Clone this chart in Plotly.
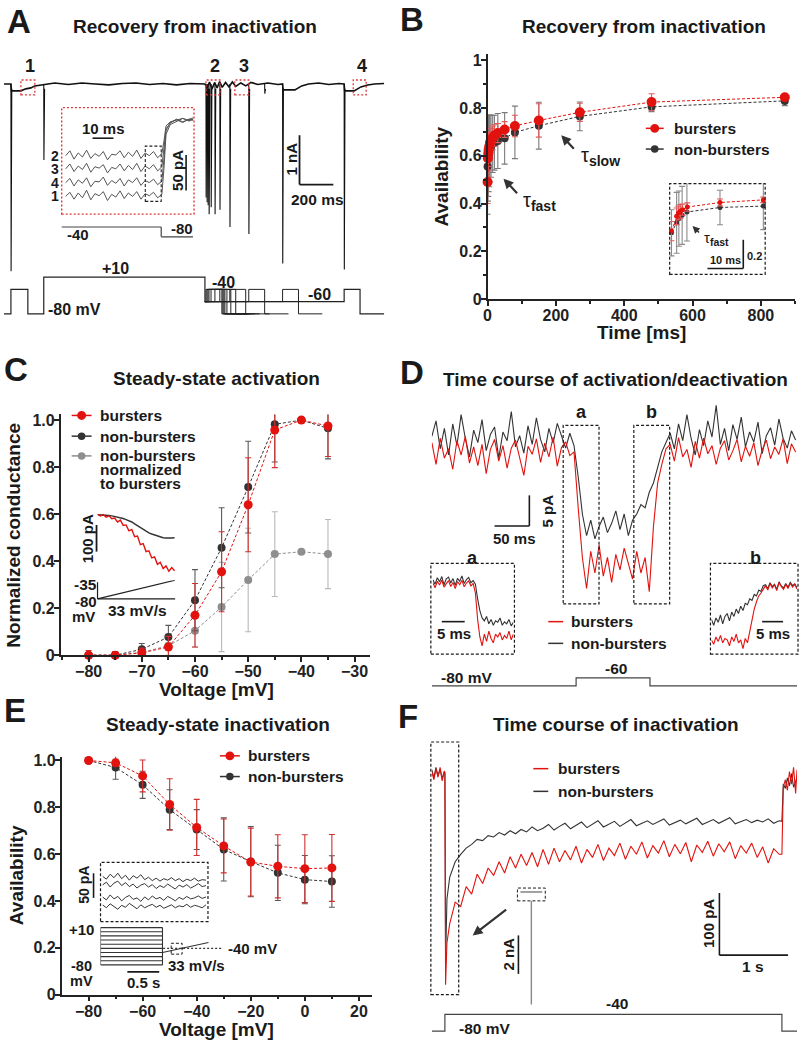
import numpy as np
import plotly.graph_objects as go

W, H = 800, 1048
RED = "#e2120e"
RED_ERR = "#e35a5a"
DARK = "#333333"
DARK_ERR = "#5a5a5a"
GRAY = "#8e8e8e"
GRAY_ERR = "#b8b8b8"
INK = "#1a1a1a"
FONT = "Liberation Sans, Arial, sans-serif"

# ---------------- data ----------------
# A: recovery protocol, current trace (ms, nA) and command steps
a_base_t = [0, 41, 44, 100, 129, 159, 182, 223, 235, 300, 380, 460, 540, 620, 700, 780, 860, 940, 1020, 1100,
            1188, 1200, 1215, 1230, 1245, 1260, 1275, 1290, 1310, 1330, 1350, 1370, 1400, 1430, 1460, 1500, 1560,
            1620, 1647, 1650, 1720, 1760, 1800, 1860, 1920, 1980, 2011, 2014, 2070, 2110, 2150, 2190, 2247]
a_base_i = [0, 0, -0.14, -0.14, -0.1, -0.08, -0.04, -0.02, 0, 0.02, -0.01, 0.02, 0, -0.02, 0.01, 0.02, -0.01, 0.01,
            -0.02, 0.01, 0, -0.08, 0.04, -0.1, 0.03, -0.08, 0.05, -0.07, 0.03, -0.06, 0.04, -0.05, 0.02, -0.04, 0.03,
            -0.01, 0.02, -0.01, 0, -0.12, -0.12, -0.04, 0, 0.02, -0.01, 0.01, 0, -0.14, -0.14, -0.06, -0.02, 0, 0.01]
a_spike_t = [41, 235, 1194, 1200, 1206, 1212, 1224, 1247, 1276, 1335, 1447, 1541, 1647, 2011]
a_spike_i = [-3.8, -1.54, -2.3, -2.4, -2.46, -2.64, -2.5, -2.64, -2.55, -2.9, -3.04, -0.2, -3.64, -3.76]
a_main_t = [0, 41, 141, 235, 1188, 2011, 2105, 2247]
a_main_v = ["-80", "-40", "-80", "+10", "-60", "-40", "-80", "-80"]
a_test_t = [1194, 1200, 1206, 1212, 1224, 1247, 1276, 1335, 1447, 1647]
a_test_len = 94
a_test_tail = 141
# A inset: tail currents at -40 mV (ms, pA)
a_in_t = list(range(2, 50, 2)) + [49, 50, 52, 55, 58, 61, 63]
a_in_2 = [-51, -44, -56, -47, -53, -43, -55, -48, -52, -45, -57, -49, -50, -44, -54, -46, -52, -43, -55, -47, -51, -45, -54, -48,
          -30, -8, -2, 0, 3, -1, 2]
a_in_3 = [-70, -63, -74, -66, -71, -62, -75, -67, -69, -64, -76, -68, -70, -63, -73, -65, -71, -62, -74, -66, -70, -64, -73, -67,
          -40, -12, -4, 2, -2, 1, 4]
a_in_4 = [-90, -84, -95, -86, -91, -83, -96, -88, -89, -82, -94, -87, -91, -84, -95, -86, -90, -83, -94, -87, -90, -85, -93, -88,
          -55, -15, -3, 1, -3, 2, 0]
a_in_1 = [-110, -104, -114, -105, -112, -101, -115, -106, -109, -103, -116, -107, -111, -102, -113, -105, -110, -103, -114,
          -106, -109, -104, -112, -107, -70, -20, -6, -1, 3, 0, 2]

# B: recovery from inactivation (ms, availability)
b_t = [0, 1, 2, 3, 5, 7, 10, 15, 20, 30, 50, 80, 150, 270, 480, 870]
b_burst = [0.49, 0.59, 0.61, 0.625, 0.64, 0.655, 0.665, 0.675, 0.685, 0.695, 0.71, 0.725, 0.748, 0.782, 0.825, 0.845]
b_burst_err = [0.09, 0.08, 0.07, 0.07, 0.06, 0.06, 0.05, 0.05, 0.045, 0.04, 0.033, 0.045, 0.07, 0.038, 0.035, 0.012]
b_non = [0.555, 0.59, 0.6, 0.61, 0.62, 0.63, 0.64, 0.65, 0.655, 0.662, 0.673, 0.698, 0.726, 0.765, 0.805, 0.83]
b_non_err = [0.2, 0.18, 0.17, 0.16, 0.15, 0.14, 0.13, 0.12, 0.115, 0.115, 0.108, 0.11, 0.098, 0.06, 0.02, 0.02]
b_in_t = [0, 1.4, 1.9, 2.4, 3.0, 4.3, 13.2, 25]
b_in_burst = [0.526, 0.633, 0.657, 0.669, 0.681, 0.70, 0.733, 0.752]
b_in_burst_err = [0.07, 0.06, 0.05, 0.05, 0.04, 0.03, 0.025, 0.02]
b_in_non_t = [0, 1.4, 2.0, 2.9, 4.2, 13.2, 25]
b_in_non = [0.514, 0.586, 0.616, 0.64, 0.664, 0.697, 0.707]
b_in_non_err = [0.167, 0.22, 0.2, 0.21, 0.21, 0.125, 0.17]

# C: steady-state activation
c_v = [-80, -75, -70, -65, -60, -55, -50, -45, -40, -35]
c_burst = [0, 0, 0.01, 0.035, 0.17, 0.355, 0.64, 0.958, 1.0, 0.975]
c_burst_err = [0.02, 0.015, 0.02, 0.045, 0.135, 0.17, 0.2, 0.16, 0, 0.13]
c_non = [0, 0, 0.025, 0.077, 0.234, 0.457, 0.715, 0.982, 1.0, 0.965]
c_non_err = [0.01, 0.01, 0.025, 0.05, 0.13, 0.17, 0.195, 0.16, 0, 0.13]
c_norm = [0, 0, 0.012, 0.04, 0.104, 0.205, 0.32, 0.43, 0.44, 0.43]
c_norm_err = [0.01, 0.01, 0.02, 0.04, 0.07, 0.19, 0.22, 0.18, 0, 0.147]
c_in_dt = 0.05
c_in_burst = [2, -4, 1, -9, -4, -15, -12, -27, -20, -40, -38, -60, -55, -82, -80, -112, -108, -138, -135, -162,
              -158, -186, -178, -202, -192, -212, -198, -210]
c_in_non = [0, 0, -1, -1.5, -2.5, -4, -6, -8, -10, -14, -18, -22, -27, -34, -41, -48, -56, -62, -68, -72,
            -76, -80, -83, -86, -87, -88, -87, -86]
c_ramp_t = [0, 1.36]
c_ramp_v = [-80, -35]

# D: activation/deactivation time course (ms, pA)
d_dt = 6
d_burst = [1.5, -2.0, 2.2, -1.0, 0.5, -2.8, 1.8, -0.5, 2.5, -1.8, 0.8, -2.2, 1.2, -3.5, 0.4, 2.0, -1.5, 1.0, -2.6, 0.6,
           1.9, -1.2, -3.8, 0.9, -0.4, 2.1, -1.7, 1.4, -0.8, 2.4, -2.3, 0.7, 1.6, -0.6, 0.0, -9.0, -17.0,
           -22, -16, -19.5, -15, -20, -17, -21, -16.5, -19, -15.5, -18, -20.5, -16, -19.5, -17, -22.5,
           -12, -5, -2, 0.5, 1.2, -1.5, 2.3, -0.8, 0.4, -2.5, 1.7, -1.0, 2.2, -0.3, 1.0, -2.0, 0.6, 1.8, -1.3, 0.2,
           2.0, -1.6, 0.9, -0.7, 1.5, -2.2, 0.3, 1.9, -1.1, 0.8, -0.4, 2.1, -1.9, 1.3, 0.0]
d_non = [2.5, 5.0, 0.5, 3.8, -0.5, 4.5, 1.0, 6.0, 2.2, -0.8, 3.5, 1.5, 5.2, 0.2, 2.8, 4.0, -1.0, 3.2, 1.8, 6.5,
         0.8, 2.6, -0.2, 4.2, 1.2, 5.5, 2.0, 0.0, 3.8, 1.4, 4.6, 2.4, 0.6, 3.0, 1.0, -4.0, -10.0,
         -13.5, -11, -14, -12, -10.5, -13, -11.5, -9.5, -12.5, -10, -13.5, -11, -10, -8.5, -9, -6.5,
         -5, -2.5, 0, 1.5, 3.0, 0.5, 4.5, 1.8, 6.0, 2.2, -0.5, 3.6, 1.0, 5.0, 2.4, 7.5, 1.2, 3.8, 0.2, 4.4,
         2.0, 5.6, 0.8, 3.2, 1.6, 4.8, -0.3, 2.6, 3.9, 1.1, 5.3, 2.2, 0.6, 3.4, 1.9]
d_stim_t = [0, 207, 207, 313, 313, 524]
d_stim_v = [-80, -80, -60, -60, -80, -80]
d_in_dt = 0.5
da_burst = [0.5, -1.2, 1.0, -0.3, 1.4, -1.0, 0.2, 1.2, -0.8, 0.6, -1.5, 0.9, -0.2, 1.3, -0.9, 0.4, 1.1, -0.6, 0.3,
            -3, -12, -18, -21, -17, -19.5, -16, -18.5, -20, -17, -18, -16.5, -19, -17.5, -18.5, -16, -19, -17]
da_non = [1.5, 0.0, 2.2, 0.8, 2.6, -0.2, 1.8, 2.4, 0.4, 1.9, -0.4, 2.0, 1.0, 2.8, 0.2, 1.6, 2.3, 0.5, 1.2,
          0, -5, -9, -11.5, -12.5, -11, -13.5, -12, -14, -12.5, -13, -11.5, -14, -12.8, -13.5, -12, -14.2, -13]
db_burst = [-18, -19.5, -17, -18.5, -16.5, -19, -17.5, -18, -20, -17, -18.5, -16, -19, -18, -21, -17.5,
            -19, -15, -11, -7.5, -5, -3, -2, -0.5,
            0.5, -1, 1.2, -0.3, 0.8, -1.2, 1.5, 0.2, -0.8, 1.0, -0.5, 1.3, 0.0, 0.9, -0.6]
db_non = [-11, -13, -10.5, -12, -9.5, -12.5, -10, -9, -11.5, -8.5, -10, -7.5, -9, -6.5, -8, -5.5,
          -6, -4, -4.5, -2.5, -3, -1, -1.5, 0.5,
          0.8, -0.5, 1.5, 0.2, 1.0, -0.8, 1.8, 0.4, -0.3, 1.2, 0.0, 1.6, 0.5, 1.1, -0.2]

# E: steady-state inactivation
e_v = [-80, -70, -60, -50, -40, -30, -20, -10, 0, 10]
e_burst = [1.0, 0.99, 0.934, 0.812, 0.714, 0.635, 0.566, 0.548, 0.538, 0.541]
e_burst_err = [0, 0.015, 0.068, 0.11, 0.12, 0.115, 0.145, 0.135, 0.145, 0.143]
e_non = [1.0, 0.97, 0.896, 0.79, 0.705, 0.62, 0.568, 0.52, 0.491, 0.483]
e_non_err = [0, 0.05, 0.058, 0.085, 0.085, 0.135, 0.15, 0.118, 0.103, 0.11]
e_in_dt = 0.06
e_in_traces = [
    [0, -6, 4, -3, 6, -5, 2, -8, 1, -4, 3, -7, -2, -9, -4, -10, -5, -8, -3, -9, -5, -11, -6, -9, -4, -10, -7, -8],
    [-18, -12, -22, -14, -10, -19, -13, -21, -16, -24, -18, -15, -22, -17, -25, -19, -23, -16, -21, -26, -18, -22, -17,
     -24, -20, -15, -21, -19],
    [-42, -48, -38, -46, -41, -50, -43, -39, -47, -44, -51, -42, -48, -40, -46, -43, -49, -41, -45, -50, -43, -47, -41,
     -46, -44, -40, -45, -42],
    [-58, -64, -56, -62, -67, -59, -63, -55, -61, -66, -58, -64, -60, -57, -63, -59, -65, -61, -58, -64, -60, -62, -57,
     -63, -59, -61, -64, -58],
]
e_stim_levels = [10, 0, -10, -20, -30, -40, -50, -60, -70, -80]
e_stim_len = 0.97
e_ramp_t = [0.97, 1.69]
e_ramp_v = [-50, -26]

# F: time course of inactivation (s, pA)
f_t_head = [0.0, 0.03, 0.06, 0.09, 0.12, 0.15, 0.18, 0.19, 0.2, 0.22]
f_burst_head = [5, -8, 10, -4, 12, -10, 6, 4, -338, -270]
f_non_head = [8, -5, 12, -2, 9, -6, 4, 2, -300, -200]
f_dt, f_t0 = 0.08, 0.26
f_burst = [-240, -205, -212, -180, -192, -160, -175, -150, -162, -140, -158, -132, -150, -128, -146, -125, -148, -120,
           -144, -118, -140, -122, -137, -115, -142, -120, -133, -112, -138, -118, -130, -110, -136, -115, -128, -108,
           -134, -114, -126, -106, -132, -112, -127, -109, -140, -113, -125, -107, -131, -111, -124, -108, -135, -114,
           -126, -110, -133, -116, -142, -119, -128]
f_non = [-165, -140, -128, -118, -112, -104, -106, -98, -100, -93, -97, -90, -95, -88, -92, -84, -90, -86, -80, -89,
         -83, -78, -87, -81, -76, -85, -79, -74, -84, -80, -75, -83, -77, -72, -82, -78, -74, -80, -76, -71,
         -81, -77, -73, -79, -75, -70, -80, -76, -72, -78, -74, -69, -79, -75, -72, -77, -73, -76, -71, -78, -74]
f_t_tail = [5.1, 5.12, 5.15, 5.18, 5.21, 5.24, 5.27, 5.3, 5.32]
f_burst_tail = [-128, -20, -8, -25, 5, -15, 12, -30, 8]
f_non_tail = [-75, -15, -22, -5, -18, 2, -20, -10, -5]
f_stim_t = [0, 0.19, 0.19, 5.1, 5.1, 5.32]
f_stim_v = [-80, -80, -40, -40, -80, -80]


# ---------------- helpers ----------------
def px(x):
    return x / W


def py(y):
    return 1 - y / H


axes_layout = {}


def make_axes(n, x0, x1, ytop, ybot, xr, yr, **ykw):
    xr_name = "x" if n == 1 else f"x{n}"
    yr_name = "y" if n == 1 else f"y{n}"
    axes_layout["xaxis" if n == 1 else f"xaxis{n}"] = dict(
        domain=[px(x0), px(x1)], range=xr, anchor=yr_name, visible=False, fixedrange=True)
    ya = dict(domain=[py(ybot), py(ytop)], range=yr, anchor=xr_name, visible=False, fixedrange=True)
    ya.update(ykw)
    axes_layout["yaxis" if n == 1 else f"yaxis{n}"] = ya
    return xr_name, yr_name


fig = go.Figure()


def trace(xs, ys, ax, color, width=1.0, dash="solid", **kw):
    fig.add_trace(go.Scatter(x=xs, y=ys, xaxis=ax[0], yaxis=ax[1], mode="lines",
                             line=dict(color=color, width=width, dash=dash), hoverinfo="skip", **kw))


def series(xs, ys, err, ax, color, err_color, size):
    fig.add_trace(go.Scatter(x=xs, y=ys, xaxis=ax[0], yaxis=ax[1], mode="lines+markers",
                             line=dict(color=color, width=1, dash="3px,2px"),
                             marker=dict(color=color, size=size),
                             error_y=dict(type="data", array=err, color=err_color, thickness=1.1, width=3),
                             cliponaxis=False))


ann = []
shapes = []


def text(x, y, s, size=15, xa="center", ya="middle", angle=0, color=INK, weight="bold"):
    ann.append(dict(x=px(x), y=py(y), xref="paper", yref="paper", text=s, showarrow=False,
                    xanchor=xa, yanchor=ya, textangle=angle,
                    font=dict(family=FONT, size=size, color=color, weight=weight)))


def arrow(xt, yt, xs, ys, width=2.2):
    ann.append(dict(x=px(xt), y=py(yt), xref="paper", yref="paper", ax=xs - xt, ay=ys - yt,
                    showarrow=True, arrowhead=2, arrowsize=0.9, arrowwidth=width, arrowcolor="#333", text=""))


def seg(x0, y0, x1, y1, color=INK, width=1.5, dash="solid"):
    shapes.append(dict(type="line", xref="paper", yref="paper", x0=px(x0), y0=py(y0), x1=px(x1), y1=py(y1),
                       line=dict(color=color, width=width, dash=dash)))


def box(x0, y0, x1, y1, color=INK, width=1.2, dash="3px,2px"):
    shapes.append(dict(type="rect", xref="paper", yref="paper", x0=px(x0), y0=py(y1), x1=px(x1), y1=py(y0),
                       line=dict(color=color, width=width, dash=dash), fillcolor="rgba(0,0,0,0)"))


def dot(cx, cy, r, color):
    shapes.append(dict(type="circle", xref="paper", yref="paper", x0=px(cx - r), x1=px(cx + r),
                       y0=py(cy + r), y1=py(cy - r), fillcolor=color, line=dict(width=0)))


def legend_row(x0, x1, y, color, label, tx, r=None, size=15.5):
    seg(x0, y, x1, y, color=color, width=1.5)
    if r:
        dot((x0 + x1) / 2, y, r, color)
    text(tx, y, label, size=size, xa="left")


def steps(t, v):
    xs, ys = [], []
    for i in range(len(t)):
        if i > 0:
            xs.append(t[i]); ys.append(v[i - 1])
        xs.append(t[i]); ys.append(v[i])
    return xs, ys


TICKFONT = dict(family=FONT, size=16, color="#222", weight="bold")


def show_axis(name, **kw):
    d = axes_layout[name]
    d.update(dict(visible=True, showline=True, linecolor="#222", linewidth=1.6, ticks="outside", ticklen=5,
                  tickwidth=1.6, tickcolor="#222", showgrid=False, zeroline=False, tickfont=TICKFONT,
                  ticklabelstandoff=-4))
    d.update(kw)


# ---------------- panel A ----------------
axA = make_axes(1, 0, 383, 70, 275, [0, 2253], [-3.9, 0.2])
trace(a_base_t, a_base_i, axA, "#111", 1.6)
sx, sy = [], []
for t, i in zip(a_spike_t, a_spike_i):
    sx += [t, t + 1, t + 5, None]
    sy += [0, i, -0.1, None]
trace(sx, sy, axA, "#111", 1.1)

axAs = make_axes(2, 0, 383, 270, 318, [0, 2253], [-0.4, 3.47],
                 type="category", categoryarray=["-80", "-60", "-40", "+10"])
mx, my = steps(a_main_t, a_main_v)
trace(mx, my, axAs, "#222", 1.2)
tx, ty = [], []
for s in a_test_t:
    xs, ys = steps([a_main_t[4], s, s + a_test_len, s + a_test_len + a_test_tail],
                   ["-60", "-40", "-80", "-80"])
    tx += xs + [None]
    ty += ys + [None]
trace(tx, ty, axAs, "#222", 1.0)

axAi = make_axes(3, 58, 191, 104, 212, [0.1, 63.4], [-135.7, 18.6])
for tr in (a_in_2, a_in_3, a_in_4, a_in_1):
    trace(a_in_t, tr, axAi, "#555", 1.0)

box(58, 104, 191, 212, color="#e03a3a", width=1.4, dash="2px,2px")
box(142, 143, 158, 199, color="#222", width=1.1)
for (x0, x1), lab in zip([(17, 31), (203, 217), (232, 246), (351, 364)], ["1", "2", "3", "4"]):
    box(x0, 76, x1, 91, color="#e03a3a", width=1.3, dash="2px,2px")
    text((x0 + x1) / 2 + 2, 62, lab, size=18)
for yy, lab in zip([153, 166, 180, 194], ["2", "3", "4", "1"]):
    text(51, yy, lab, size=14)
seg(89, 135, 110, 135, width=1.6)
text(100, 125, "10 ms", size=15)
seg(183, 152, 183, 188, width=1.6)
text(175, 168, "50 pA", size=15, angle=-90)
seg(58, 225, 158, 225, color="#444", width=1.2)
seg(158, 225, 158, 235, color="#444", width=1.2)
seg(158, 235, 190, 235, color="#444", width=1.2)
text(74, 233, "-40", size=15)
text(179, 227, "-80", size=15)
seg(297, 132, 297, 182, width=1.8)
seg(297, 182, 331, 182, width=1.8)
text(289, 156, "1 nA", size=15, angle=-90)
text(315, 197, "200 ms", size=15.5)
text(112, 267, "+10", size=16)
text(71, 309, "-80 mV", size=16)
text(221, 281, "-40", size=16)
text(317, 293, "-60", size=16)
text(15, 17, "A", size=33)
text(192, 22, "Recovery from inactivation", size=19)

# ---------------- panel B ----------------
axB = make_axes(4, 486, 795, 50, 298, [0, 900], [0, 1.025])
show_axis("xaxis4", tickvals=[0, 200, 400, 600, 800], minor=dict(dtick=100, ticklen=3, ticks="outside", tickcolor="#222"))
show_axis("yaxis4", tickvals=[0, 0.2, 0.4, 0.6, 0.8, 1], ticktext=["0", "0.2", "0.4", "0.6", "0.8", "1"],
          minor=dict(dtick=0.1, ticklen=3, ticks="outside", tickcolor="#222"))
series(b_t, b_non, b_non_err, axB, DARK, "#7a7a7a", 8)
series(b_t, b_burst, b_burst_err, axB, RED, RED_ERR, 10)

axBi = make_axes(5, 669, 765, 181, 273, [-0.5, 25.5], [0.213, 0.87])
series(b_in_non_t, b_in_non, b_in_non_err, axBi, DARK, "#8a8a8a", 5)
series(b_in_t, b_in_burst, b_in_burst_err, axBi, RED, RED_ERR, 5)
box(669, 181, 765, 273, width=1.2)
seg(707, 267, 743, 267, width=1.6)
seg(743, 238, 743, 267, width=1.6)
text(725, 258, "10 ms", size=11)
text(754, 254, "0.2", size=11)
arrow(692, 224, 700, 232, width=1.6)
text(702, 237, "τ<sub><b>fast</b></sub>", size=15, xa="left", weight="normal")

arrow(560, 132, 574, 147)
text(578, 154, "τ<sub><b>slow</b></sub>", size=20, xa="left", weight="normal")
arrow(502, 176, 517, 192)
text(520, 199, "τ<sub><b>fast</b></sub>", size=20, xa="left", weight="normal")
legend_row(645, 663, 125, RED, "bursters", 671, r=4.5)
legend_row(645, 663, 146, DARK, "non-bursters", 671, r=3.8)
text(440, 174, "Availability", size=19, angle=-90)
text(641, 332, "Time [ms]", size=19)
text(410, 15, "B", size=33)
text(643, 22, "Recovery from inactivation", size=19)

# ---------------- panel C ----------------
axC = make_axes(6, 57, 368, 415, 659, [-85.24, -27.07], [0, 1.024])
show_axis("xaxis6", tickvals=[-80, -70, -60, -50, -40, -30],
          minor=dict(dtick=5, ticklen=3, ticks="outside", tickcolor="#222"))
show_axis("yaxis6", tickvals=[0, 0.2, 0.4, 0.6, 0.8, 1.0], ticktext=["0", "0.2", "0.4", "0.6", "0.8", "1.0"])
series(c_v, c_norm, c_norm_err, axC, GRAY, GRAY_ERR, 8)
series(c_v, c_non, c_non_err, axC, DARK, DARK_ERR, 8)
series(c_v, c_burst, c_burst_err, axC, RED, "#d23030", 9)

axCi = make_axes(7, 94, 172, 512, 578, [0, 1.36], [-227, 17.4])
c_in_t = [i * c_in_dt for i in range(len(c_in_burst))]
trace(c_in_t, c_in_non, axCi, DARK, 1.4)
trace(c_in_t, c_in_burst, axCi, RED, 1.4)
axCr = make_axes(8, 94, 172, 583, 604, [0, 1.36], [-85, -35])
trace(c_ramp_t, c_ramp_v, axCr, "#222", 1.2)
seg(94, 585, 94, 602, width=1.2)
seg(94, 602, 172, 602, width=1.2)
seg(93, 527, 93, 554, width=1.8)
text(84, 541, "100 pA", size=15, angle=-90)
text(82, 587, "-35", size=15.5)
text(82, 605, "-80", size=15)
text(80, 620, "mV", size=15)
text(134, 614, "33 mV/s", size=15.5)
legend_row(68, 88, 416, RED, "bursters", 94, r=4.5)
legend_row(68, 88, 437, DARK, "non-bursters", 94, r=3.8)
legend_row(68, 88, 457, GRAY, "non-bursters", 94, r=3.8)
text(94, 471, "normalized", size=15.5, xa="left")
text(94, 485, "to bursters", size=15.5, xa="left")
text(10, 537, "Normalized conductance", size=19, angle=-90)
text(214, 694, "Voltage [mV]", size=19)
text(12, 369, "C", size=33)
text(214, 379, "Steady-state activation", size=19)

# ---------------- panel D ----------------
axD = make_axes(9, 430, 797, 390, 604, [0, 524], [-24, 10])
d_t = [i * d_dt for i in range(len(d_burst))]
trace(d_t, d_non, axD, DARK, 1.1)
trace(d_t, d_burst, axD, RED, 1.1)
axDs = make_axes(10, 430, 797, 676, 692, [0, 524], [-85, -45])
trace(d_stim_t, d_stim_v, axDs, "#444", 1.2)
axDa = make_axes(11, 431, 512, 568, 656, [0, 18], [-23.2, 6.4])
da_t = [i * d_in_dt for i in range(len(da_burst))]
trace(da_t, da_non, axDa, DARK, 1.1)
trace(da_t, da_burst, axDa, RED, 1.1)
axDb = make_axes(12, 711, 797, 568, 656, [0, 19], [-22.2, 7.4])
db_t = [i * d_in_dt for i in range(len(db_burst))]
trace(db_t, db_non, axDb, DARK, 1.1)
trace(db_t, db_burst, axDb, RED, 1.1)

box(562, 426, 598, 607)
box(633, 426, 669, 607)
box(429, 566, 513, 658)
box(710, 566, 798, 658)
text(580, 413, "a", size=18)
text(651, 413, "b", size=18)
text(471, 560, "a", size=18)
text(755, 560, "b", size=18)
seg(493, 528, 528, 528, width=1.6)
seg(528, 497, 528, 528, width=1.6)
text(513, 541, "50 ms", size=15)
text(546, 513, "5 pA", size=15, angle=-90)
seg(440, 625, 463, 625, width=1.6)
text(452, 637, "5 ms", size=15)
seg(762, 625, 783, 625, width=1.6)
text(773, 637, "5 ms", size=15)
legend_row(547, 562, 625, RED, "bursters", 568)
legend_row(547, 562, 647, DARK, "non-bursters", 568)
text(465, 682, "-80 mV", size=15.5)
text(615, 672, "-60", size=15.5)
text(410, 372, "D", size=33)
text(615, 380, "Time course of activation/deactivation", size=19)

# ---------------- panel E ----------------
axE = make_axes(13, 58, 370, 762, 1003, [-89.94, 24.9], [0, 1.0156])
show_axis("xaxis13", tickvals=[-80, -60, -40, -20, 0, 20],
          minor=dict(dtick=10, ticklen=3, ticks="outside", tickcolor="#222"))
show_axis("yaxis13", tickvals=[0, 0.2, 0.4, 0.6, 0.8, 1.0], ticktext=["0", "0.2", "0.4", "0.6", "0.8", "1.0"])
series(e_v, e_non, e_non_err, axE, DARK, DARK_ERR, 8)
series(e_v, e_burst, e_burst_err, axE, RED, "#d23030", 9)

axEi = make_axes(14, 99, 203, 870, 928, [0, 1.62], [-90, 26])
for tr in e_in_traces:
    trace([i * e_in_dt for i in range(len(tr))], tr, axEi, "#333", 1.0)
axEs = make_axes(15, 97, 219, 933, 975, [0, 1.9], [-85, 15])
lx, ly = [], []
for v in e_stim_levels:
    lx += [0, e_stim_len, None]
    ly += [v, v, None]
lx += [0, 0, None, e_stim_len, e_stim_len]
ly += [e_stim_levels[-1], e_stim_levels[0], None, e_stim_levels[-1], e_stim_levels[0]]
trace(lx, ly, axEs, "#333", 1.1)
trace(e_ramp_t, e_ramp_v, axEs, "#333", 1.1)
trace([0.98, 1.89], [-40, -40], axEs, "#333", 1.1, dash="2px,2px")
box(97, 869, 205, 929)
box(168, 951, 179, 962, width=1.0)
seg(90, 880, 90, 905, width=1.6)
text(80, 892, "50 pA", size=14, angle=-90)
text(78, 937, "+10", size=15)
text(78, 974, "-80", size=14.5)
text(78, 989, "mV", size=14.5)
seg(124, 980, 156, 980, width=1.6)
text(140, 991, "0.5 s", size=15)
text(193, 973, "33 mV/s", size=15)
text(223, 956, "-40 mV", size=15, xa="left")
legend_row(217, 237, 761, RED, "bursters", 243, r=4.5)
legend_row(217, 237, 782, DARK, "non-bursters", 243, r=3.8)
text(12, 882, "Availability", size=19, angle=-90)
text(214, 1038, "Voltage [mV]", size=19)
text(11, 715, "E", size=33)
text(215, 729, "Steady-state inactivation", size=19)

# ---------------- panel F ----------------
axF = make_axes(16, 430, 797, 755, 1000, [0, 5.32], [-349, 40])
f_t = f_t_head + [f_t0 + i * f_dt for i in range(len(f_burst))] + f_t_tail
trace(f_t, f_non_head + f_non + f_non_tail, axF, DARK, 1.1)
trace(f_t, f_burst_head + f_burst + f_burst_tail, axF, RED, 1.1)
axFs = make_axes(17, 430, 797, 1019, 1044, [0, 5.32], [-89.4, -30.6])
trace(f_stim_t, f_stim_v, axFs, "#444", 1.2)
box(429, 747, 457, 1003)
box(516, 895, 544, 908, width=1.0)
seg(519, 899, 541, 899, color="#444", width=1.0)
seg(530, 908, 530, 1013, color="#888", width=1.4)
arrow(471, 943, 506, 916)
seg(517, 943, 517, 982, width=1.6)
text(507, 962, "2 nA", size=15, angle=-90)
seg(719, 900, 719, 963, width=1.6)
seg(719, 963, 788, 963, width=1.6)
text(708, 931, "100 pA", size=15, angle=-90)
text(753, 975, "1 s", size=15.5)
legend_row(532, 547, 774, RED, "bursters", 555)
legend_row(532, 547, 797, DARK, "non-bursters", 555)
text(616, 1012, "-40", size=15.5)
text(483, 1037, "-80 mV", size=15.5)
text(406, 721, "F", size=33)
text(615, 729, "Time course of inactivation", size=19)

fig.update_layout(
    width=W, height=H, margin=dict(l=0, r=0, t=0, b=0),
    paper_bgcolor="white", plot_bgcolor="white", showlegend=False,
    annotations=ann, shapes=shapes, **axes_layout,
)
fig.write_html("out.html", config={"displayModeBar": False},
               post_script="document.body.style.margin='0';")
